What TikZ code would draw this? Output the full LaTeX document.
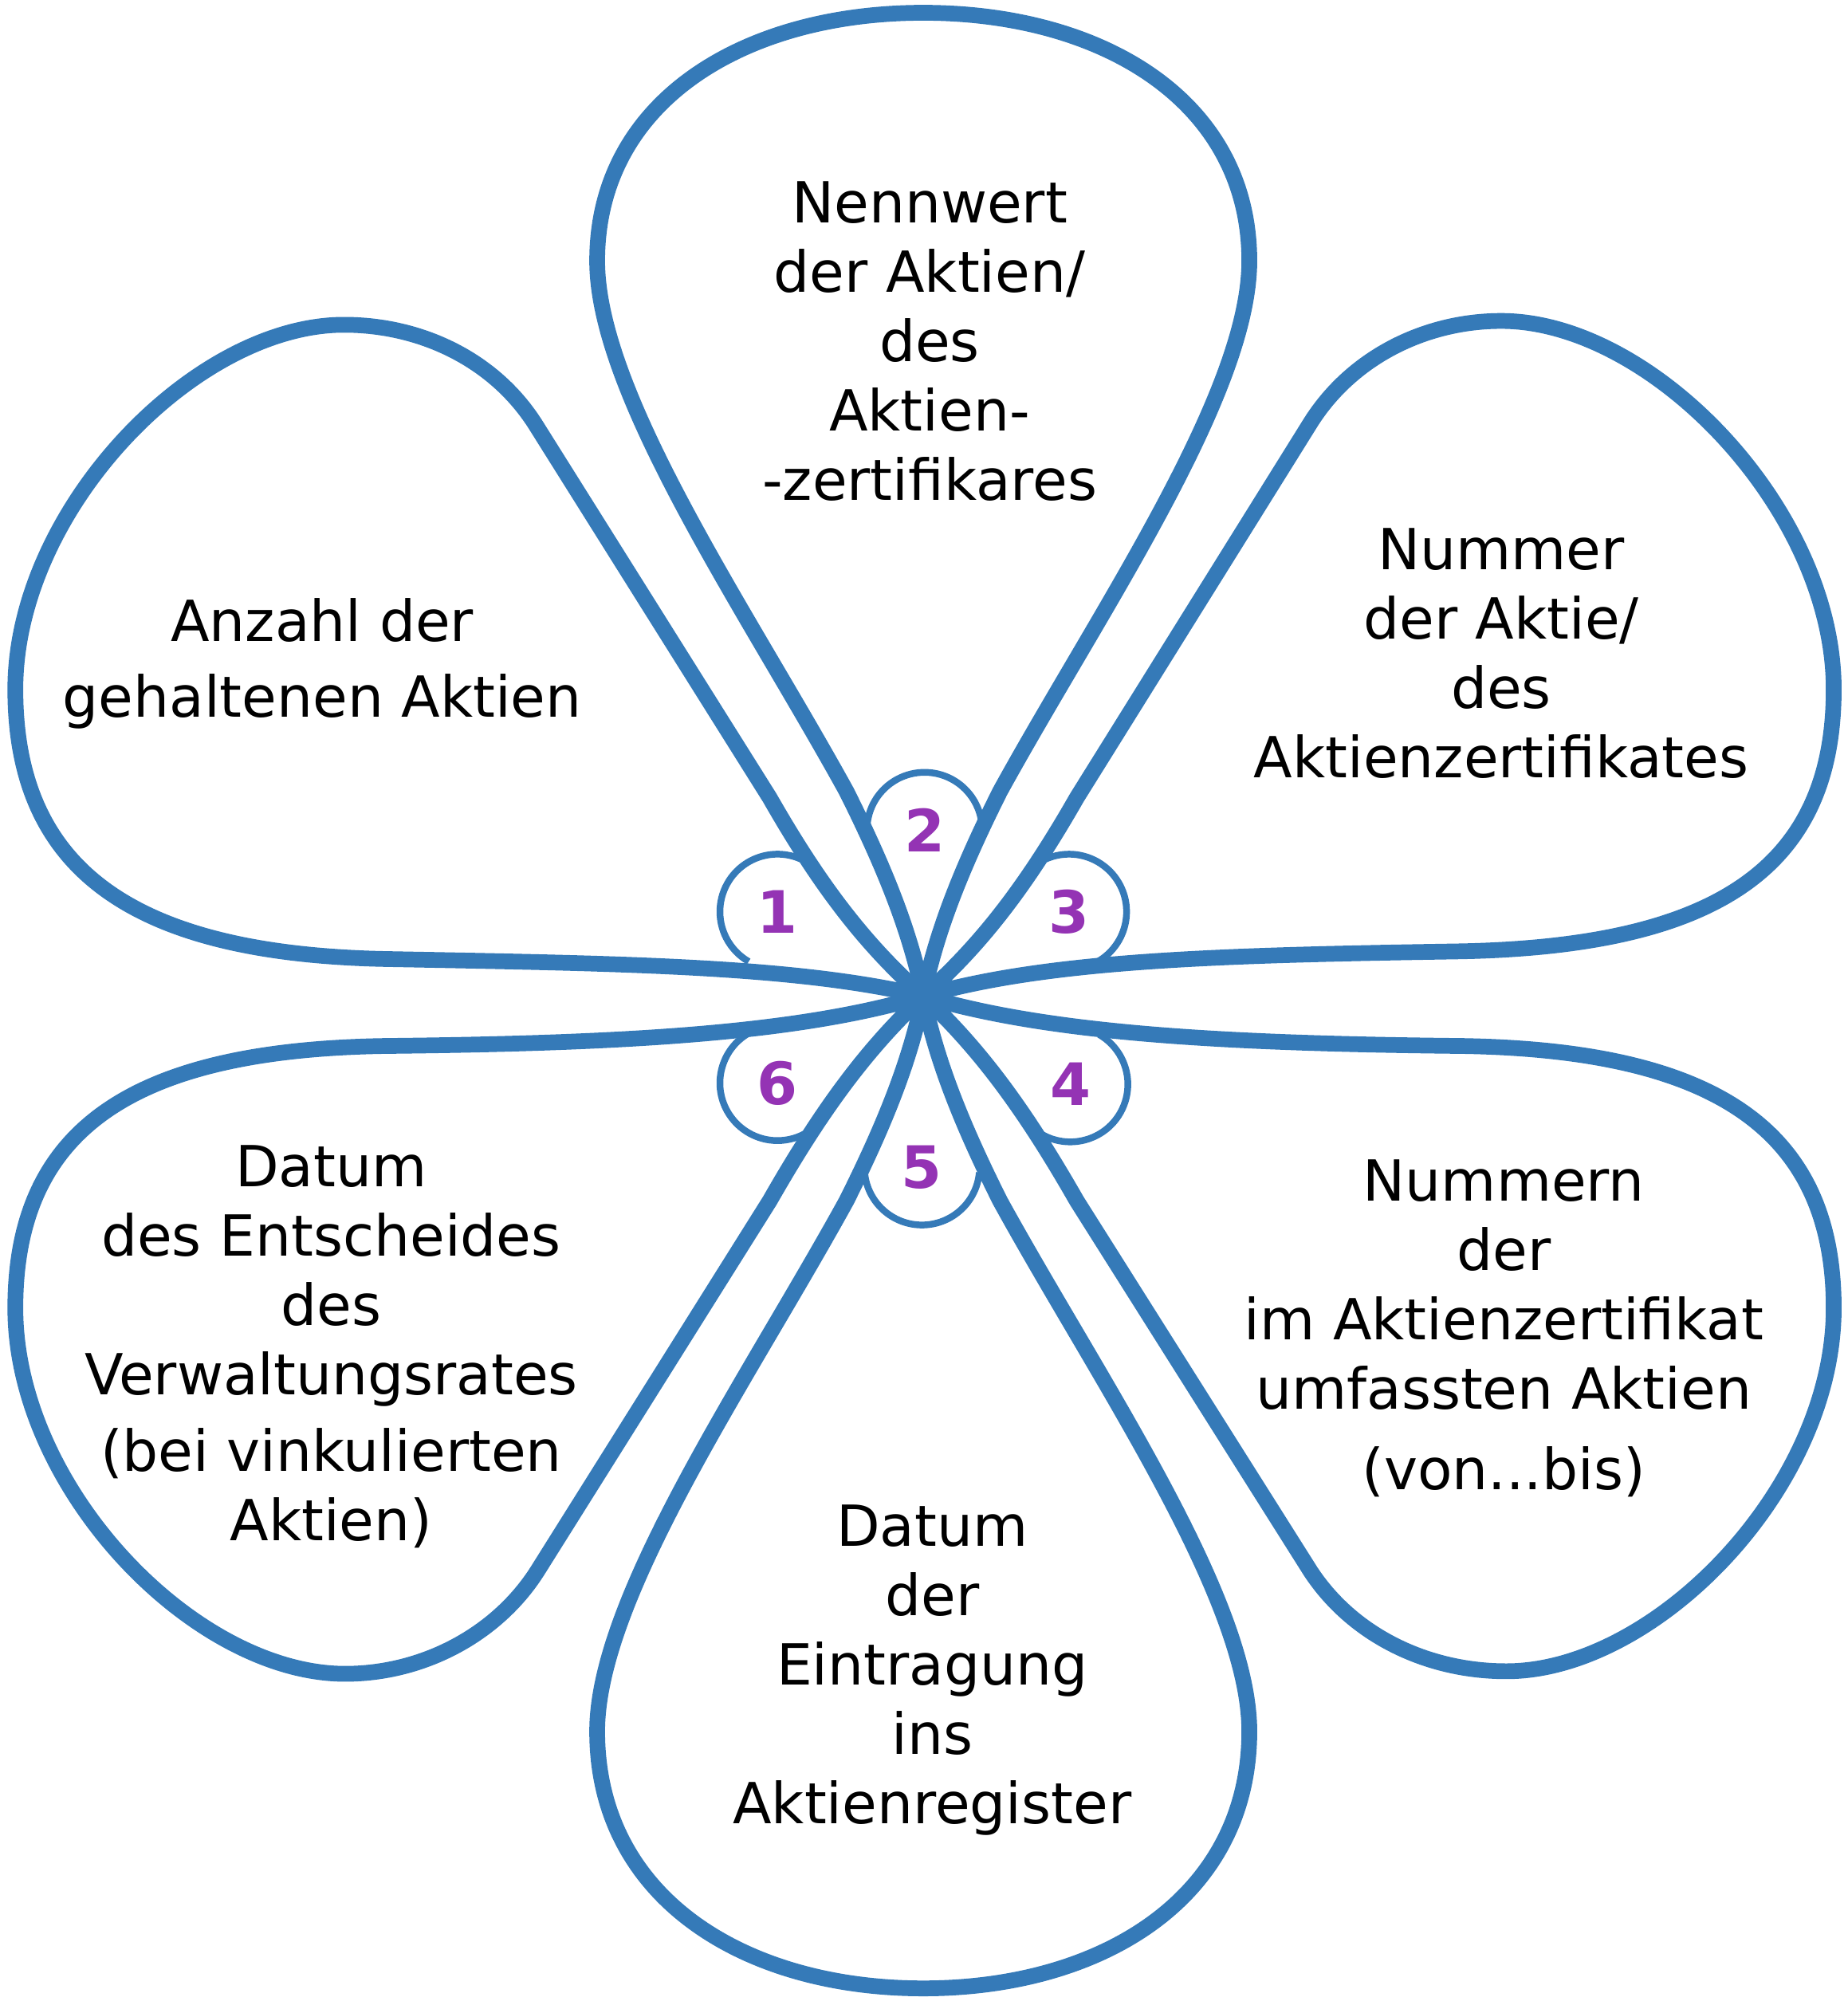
\documentclass[tikz,border=0pt]{standalone}
\usepackage{fontspec}
\setmainfont{DejaVu Sans}
\definecolor{flowerblue}{RGB}{53,122,184}
\definecolor{numpurple}{RGB}{148,51,180}
\tikzset{
  petal/.style={draw=flowerblue, line width=3.5pt, line join=round},
  bulb/.style={draw=flowerblue, line width=1.5pt},
  txt/.style={align=center, font=\fontsize{12.6}{15.45}\selectfont},
  num/.style={text=numpurple, font=\fontsize{13}{15}\selectfont\bfseries, inner sep=0pt}
}
\begin{document}
\begin{tikzpicture}
    \useasboundingbox (-7.22,-7.89) rectangle (7.23,7.79);
    % petals
    \draw[petal] (0,0) .. controls (-0.1,0.5) and (-0.3,1.0) .. (-0.6,1.6) .. controls (-1.37,3.0) and (-2.55,4.7) .. (-2.55,5.75) .. controls (-2.55,7.0) and (-1.4,7.69) .. (0,7.69) .. controls (1.4,7.69) and (2.55,7.0) .. (2.55,5.75) .. controls (2.55,4.7) and (1.37,3.0) .. (0.6,1.6) .. controls (0.3,1.0) and (0.1,0.5) .. cycle;
    \draw[petal] (0,0) .. controls (-0.1,-0.5) and (-0.3,-1.0) .. (-0.6,-1.6) .. controls (-1.37,-3.0) and (-2.55,-4.7) .. (-2.55,-5.75) .. controls (-2.55,-7.05) and (-1.4,-7.76) .. (0,-7.76) .. controls (1.4,-7.76) and (2.55,-7.05) .. (2.55,-5.75) .. controls (2.55,-4.7) and (1.37,-3.0) .. (0.6,-1.6) .. controls (0.3,-1.0) and (0.1,-0.5) .. cycle;
    \draw[petal] (0,0) .. controls (-0.45,0.4) and (-0.8,0.85) .. (-1.2,1.55) -- (-3.02,4.45) .. controls (-3.34,4.97) and (-3.92,5.25) .. (-4.53,5.25) .. controls (-5.7,5.25) and (-7.1,3.8) .. (-7.1,2.4) .. controls (-7.1,1.0) and (-6.2,0.33) .. (-4.2,0.29) .. controls (-2.4,0.255) and (-1.0,0.24) .. cycle;
    \draw[petal] (0,0) .. controls (0.45,0.4) and (0.8,0.85) .. (1.2,1.55) -- (3.02,4.47) .. controls (3.34,4.99) and (3.92,5.28) .. (4.52,5.28) .. controls (5.7,5.28) and (7.12,3.8) .. (7.12,2.4) .. controls (7.12,1.0) and (6.2,0.39) .. (4.2,0.35) .. controls (2.4,0.32) and (1.0,0.29) .. cycle;
    \draw[petal] (0,0) .. controls (-1.0,-0.3) and (-2.4,-0.37) .. (-4.2,-0.39) .. controls (-6.2,-0.42) and (-7.1,-1.05) .. (-7.1,-2.44) .. controls (-7.1,-3.85) and (-5.7,-5.3) .. (-4.52,-5.3) .. controls (-3.92,-5.3) and (-3.34,-5.0) .. (-3.02,-4.5) -- (-1.2,-1.6) .. controls (-0.8,-0.9) and (-0.45,-0.42) .. cycle;
    \draw[petal] (0,0) .. controls (1.0,-0.3) and (2.4,-0.37) .. (4.2,-0.39) .. controls (6.2,-0.42) and (7.12,-1.05) .. (7.12,-2.44) .. controls (7.12,-3.85) and (5.72,-5.28) .. (4.56,-5.28) .. controls (3.94,-5.28) and (3.36,-5.0) .. (3.03,-4.5) -- (1.2,-1.6) .. controls (0.8,-0.9) and (0.45,-0.42) .. cycle;
    % numbers
    \node[num] (n1) at (-1.14,0.66) {1};
    \node[num] (n2) at (0.01,1.30) {2};
    \node[num] (n3) at (1.14,0.66) {3};
    \node[num] (n4) at (1.15,-0.69) {4};
    \node[num] (n5) at (-0.01,-1.34) {5};
    \node[num] (n6) at (-1.14,-0.68) {6};
    \draw[bulb] (n1.center) ++(57:0.45) arc[start angle=57, end angle=240, radius=0.45];
    \draw[bulb] (n2.center) ++(-5:0.45) arc[start angle=-5, end angle=185, radius=0.45];
    \draw[bulb] (n3.center) ++(-60:0.45) arc[start angle=-60, end angle=123, radius=0.45];
    \draw[bulb] (n4.center) ++(-123:0.45) arc[start angle=-123, end angle=60, radius=0.45];
    \draw[bulb] (n5.center) ++(185:0.45) arc[start angle=185, end angle=355, radius=0.45];
    \draw[bulb] (n6.center) ++(120:0.45) arc[start angle=120, end angle=303, radius=0.45];
    % texts
    \node[txt] (anzahl) at (-4.70,2.60) {Anzahl der\\[1.5pt]gehaltenen Aktien};
    \node[txt] (nennwert) at (0.05,5.12) {Nennwert\\der Aktien/\\des\\Aktien-\\-zertifikares};
    \node[txt] (nummer) at (4.52,2.68) {Nummer\\der Aktie/\\des\\Aktienzertifikates};
    \node[txt] (nummern) at (4.54,-2.60) {Nummern\\der\\im Aktienzertifikat\\umfassten Aktien\\[2.5pt](von...bis)};
    \node[txt] (eintragung) at (0.07,-5.27) {Datum\\der\\Eintragung\\ins\\Aktienregister};
    \node[txt] (entscheid) at (-4.63,-2.74) {Datum\\des Entscheides\\des\\Verwaltungsrates\\[1.5pt](bei vinkulierten\\Aktien)};
\end{tikzpicture}
\end{document}
